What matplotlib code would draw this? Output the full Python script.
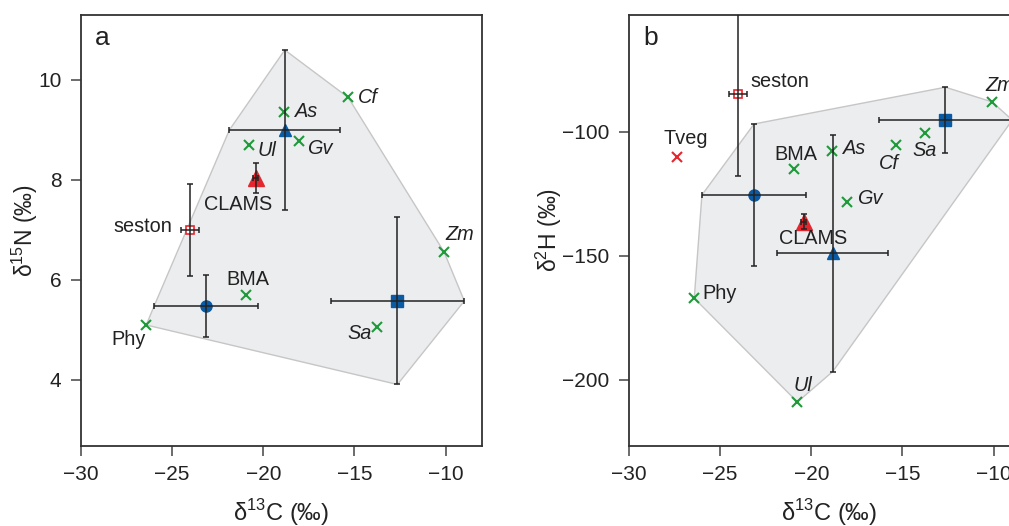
import numpy as np
import matplotlib
matplotlib.use('Agg')
from matplotlib import pyplot as plt
from matplotlib.patches import Polygon

plt.rcParams['font.family'] = ['Liberation Sans', 'DejaVu Sans']
plt.rcParams['mathtext.fontset'] = 'custom'
plt.rcParams['mathtext.rm'] = 'Liberation Sans'
plt.rcParams['axes.unicode_minus'] = True

# Sources (green crosses)
src_names = ['Phy', 'BMA', 'Ul', 'As', 'Gv', 'Cf', 'Sa', 'Zm']
src_d13c = [-26.42, -20.94, -20.76, -18.85, -18.02, -15.34, -13.75, -10.08]
src_d15n = [5.10, 5.70, 8.70, 9.36, 8.77, 9.65, 5.06, 6.56]
src_d2h = [-167.1, -115.1, -208.9, -107.8, -128.4, -105.2, -100.4, -88.0]

# Consumers (blue, mean +- SD)
cons_markers = ['o', '^', 's']
cons_d13c = [-23.14, -18.82, -12.64]
cons_d13c_sd = [2.86, 3.04, 3.67]
cons_d15n = [5.47, 9.00, 5.58]
cons_d15n_sd = [0.62, 1.60, 1.67]
cons_d2h = [-125.5, -149.0, -95.3]
cons_d2h_sd = [28.6, 47.6, 13.2]

# Seston and CLAMS (red)
seston_d13c, seston_d13c_sd = -24.01, 0.50
seston_d15n, seston_d15n_sd = 6.99, 0.92
seston_d2h, seston_d2h_sd = -84.8, 33.0
clams_d13c, clams_d13c_sd = -20.42, 0.15
clams_d15n, clams_d15n_sd = 8.03, 0.30
clams_d2h, clams_d2h_sd = -136.2, 3.0

# Terrestrial vegetation, panel b only
tveg_d13c, tveg_d2h = -27.36, -110.2

BLUE = '#0a5aa4'
GREEN = '#1f9a3a'
RED = '#e5262e'
INK = '#222222'


def convex_hull(pts):
    pts = sorted(set(pts))
    def cross(o, a, b):
        return (a[0] - o[0]) * (b[1] - o[1]) - (a[1] - o[1]) * (b[0] - o[0])
    lower, upper = [], []
    for p in pts:
        while len(lower) >= 2 and cross(lower[-2], lower[-1], p) <= 0:
            lower.pop()
        lower.append(p)
    for p in reversed(pts):
        while len(upper) >= 2 and cross(upper[-2], upper[-1], p) <= 0:
            upper.pop()
        upper.append(p)
    return lower[:-1] + upper[:-1]


def panel(ax, yv, ysd, src_y, seston_y, clams_y, labels):
    # mixing polygon from sources and consumer SD extents
    pts = list(zip(src_d13c, src_y))
    for x, xs, y, ys in zip(cons_d13c, cons_d13c_sd, yv, ysd):
        pts += [(x - xs, y), (x + xs, y), (x, y - ys), (x, y + ys)]
    hull = convex_hull(pts)
    ax.add_patch(Polygon(hull, closed=True, facecolor='#ecedef',
                         edgecolor='#c6c6c6', lw=1.0, zorder=0))

    ax.plot(src_d13c, src_y, 'x', color=GREEN, ms=6.5, mew=1.5, zorder=3)
    for x, y, m in zip(cons_d13c, yv, cons_markers):
        ax.plot(x, y, m, color=BLUE, ms=9 if m != 'o' else 8, zorder=3)
    ax.plot(clams_d13c, clams_y[0], '^', color=RED, ms=11, zorder=3)
    ax.plot(seston_d13c, seston_y[0], 's', mfc='white', mec=RED, ms=6,
            mew=1.2, zorder=3)

    ekw = dict(fmt='none', ecolor=INK, elinewidth=1.1, capsize=2.3,
               capthick=1.1, zorder=4)
    ax.errorbar(cons_d13c, yv, xerr=cons_d13c_sd, yerr=ysd, **ekw)
    ax.errorbar(seston_d13c, seston_y[0], xerr=seston_d13c_sd,
                yerr=seston_y[1], **ekw)
    ax.errorbar(clams_d13c, clams_y[0], xerr=clams_d13c_sd,
                yerr=clams_y[1], **ekw)

    for name, (x, y, dx, dy, ha, italic) in labels.items():
        ax.annotate(name, (x, y), xytext=(dx, dy), textcoords='offset pixels',
                    ha=ha, va='center', fontsize=14.3, color=INK,
                    style='italic' if italic else 'normal', zorder=5)

    ax.set_xlim(-30, -8)
    ax.set_xticks([-30, -25, -20, -15, -10])
    ax.set_xlabel('δ$^{13}$C (‰)', fontsize=17, color=INK, labelpad=9)
    ax.tick_params(direction='out', length=7, width=1.1, color='#444444',
                   labelsize=15, labelcolor=INK, pad=7)
    for s in ax.spines.values():
        s.set_color('#333333')
        s.set_linewidth(1.3)


fig = plt.figure(figsize=(10.09, 5.26), dpi=100)
ax1 = fig.add_axes([0.0803, 0.1521, 0.3974, 0.8194])
ax2 = fig.add_axes([0.6234, 0.1521, 0.3974, 0.8194])

s = dict(zip(src_names, zip(src_d13c, src_d15n)))
labels_a = {
    'Phy': (*s['Phy'], -18, -15, 'center', False),
    'BMA': (*s['BMA'], 2, 15, 'center', False),
    'Ul': (*s['Ul'], 8, -6, 'left', True),
    'As': (*s['As'], 11, 0, 'left', True),
    'Gv': (*s['Gv'], 8, -7, 'left', True),
    'Cf': (*s['Cf'], 10, 0, 'left', True),
    'Sa': (*s['Sa'], -6, -7, 'right', True),
    'Zm': (*s['Zm'], 16, 17, 'center', True),
    'seston': (seston_d13c, seston_d15n, -18, 4, 'right', False),
    'CLAMS': (clams_d13c, clams_d15n, -18, -26, 'center', False),
}
panel(ax1, cons_d15n, cons_d15n_sd, src_d15n,
      (seston_d15n, seston_d15n_sd), (clams_d15n, clams_d15n_sd), labels_a)
ax1.set_ylim(2.68, 11.3)
ax1.set_yticks([4, 6, 8, 10])
ax1.set_ylabel('δ$^{15}$N (‰)', fontsize=16.5, color=INK, labelpad=-1)
ax1.text(0.035, 0.975, 'a', transform=ax1.transAxes, fontsize=19,
         color=INK, va='top', ha='left')

s = dict(zip(src_names, zip(src_d13c, src_d2h)))
labels_b = {
    'Phy': (*s['Phy'], 8, 5, 'left', False),
    'BMA': (*s['BMA'], 2, 15, 'center', False),
    'Ul': (*s['Ul'], 5, 17, 'center', True),
    'As': (*s['As'], 11, 3, 'left', True),
    'Gv': (*s['Gv'], 10, 4, 'left', True),
    'Cf': (*s['Cf'], -7, -19, 'center', True),
    'Sa': (*s['Sa'], -1, -18, 'center', True),
    'Zm': (*s['Zm'], -7, 16, 'left', True),
    'seston': (seston_d13c, seston_d2h, 12, 12, 'left', False),
    'CLAMS': (clams_d13c, clams_d2h, 10, -17, 'center', False),
    'Tveg': (tveg_d13c, tveg_d2h, 9, 19, 'center', False),
}
panel(ax2, cons_d2h, cons_d2h_sd, src_d2h,
      (seston_d2h, seston_d2h_sd), (clams_d2h, clams_d2h_sd), labels_b)
ax2.plot(tveg_d13c, tveg_d2h, 'x', color=RED, ms=6.5, mew=1.5, zorder=3)
ax2.set_ylim(-226.6, -53)
ax2.set_yticks([-200, -150, -100])
ax2.set_ylabel('δ$^{2}$H (‰)', fontsize=16.5, color=INK, labelpad=-1)
ax2.text(0.035, 0.975, 'b', transform=ax2.transAxes, fontsize=19,
         color=INK, va='top', ha='left')

plt.savefig('out.png', dpi=100)
